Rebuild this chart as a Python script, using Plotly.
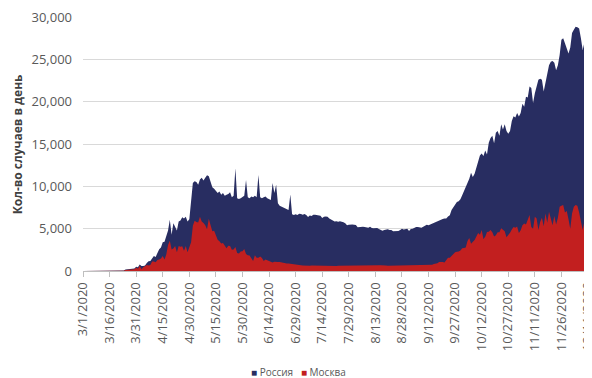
import pandas as pd
import plotly.graph_objects as go

# daily new cases, 1 Mar - 11 Dec 2020
russia_mar = [0, 1, 0, 0, 1, 6, 0, 3, 0, 3, 8, 6, 17, 14, 4, 30, 21, 33, 52, 54, 53, 61, 71, 57, 163, 182, 196, 228, 270, 302, 501]
russia_apr = [440, 771, 601, 582, 658, 954, 1154, 1175, 1459, 1786, 1667, 2186, 2558, 2774, 3388, 3448, 4070, 4785, 6060, 4268,
              5642, 5236, 4774, 5849, 5966, 6361, 6198, 6411, 5841, 6100]
russia_may = [8000, 10400, 10600, 10500, 10200, 10800, 11000, 10700, 11000, 11300, 11200, 10600, 9900, 9700, 9500, 9200, 9400,
              9000, 9200, 8900, 9000, 9100, 9300, 8700, 8900, 12150, 8600, 8500, 8600, 8800, 8900]
russia_jun = [10750, 8700, 8600, 8800, 8700, 8900, 8700, 11350, 8700, 8600, 8700, 8800, 8600, 8500, 8400, 10400, 9200, 10200,
              8000, 7700, 7600, 7500, 7400, 7300, 7200, 9050, 6700, 6600, 6700, 6600]
russia_jul = [6760, 6718, 6632, 6736, 6611, 6368, 6562, 6509, 6635, 6632, 6615, 6611, 6537, 6248, 6422, 6428, 6406, 6198, 6109,
              5940, 5842, 5862, 5811, 5871, 5848, 5765, 5635, 5395, 5475, 5509, 5482]
russia_aug = [5462, 5427, 5159, 5204, 5241, 5212, 5189, 5118, 5102, 5241, 5065, 5061, 5057, 5076, 4969, 4892, 4748, 4828, 4870,
              4921, 4838, 4852, 4696, 4676, 4744, 4711, 4829, 4979, 4897, 4980, 4993]
russia_sep = [4729, 4952, 4995, 5110, 5205, 5195, 5185, 5099, 5218, 5363, 5449, 5406, 5509, 5529, 5670, 5762, 5905, 5995, 6065,
              6148, 6196, 6215, 6431, 6595, 7212, 7523, 7867, 8135, 8232, 8481]
russia_oct = [8945, 9412, 9859, 10499, 10888, 11615, 11115, 11493, 12126, 12846, 13634, 13868, 13592, 14231, 13754, 15150, 15700,
              15982, 15099, 16319, 16521, 15971, 17340, 16710, 17347, 16550, 16202, 16550, 17717, 18283, 18140]
russia_nov = [18665, 18257, 18648, 19768, 19404, 20582, 20498, 21800, 21600, 19850, 21000, 22000, 22600, 22700, 22600, 21200,
              22400, 23600, 24300, 24700, 24800, 24600, 23700, 24300, 25500, 27300, 27500, 26900, 26300, 25700]
russia_dec = [26400, 28100, 28500, 28850, 28800, 28650, 27500, 26100, 27000, 28000, 28260]

moscow_mar = [0, 1, 0, 0, 0, 5, 0, 0, 0, 2, 5, 5, 12, 10, 1, 20, 14, 23, 33, 33, 33, 32, 54, 28, 120, 136, 157, 114, 197, 212, 387]
moscow_apr = [267, 595, 212, 434, 536, 697, 660, 706, 1124, 1124, 1030, 1306, 1355, 1489, 1774, 1370, 1959, 3083, 3570, 2548,
              2649, 2957, 2221, 2948, 2871, 2930, 2405, 2954, 2220, 2750]
moscow_may = [3400, 5358, 5948, 5795, 5714, 6400, 5846, 5667, 5392, 4942, 6169, 5392, 4703, 4748, 4100, 3700, 3505, 3238, 3300,
              2913, 2700, 2988, 2957, 2516, 2548, 2830, 2140, 2054, 2300, 2332, 2595]
moscow_jun = [2014, 1855, 1842, 1572, 1195, 1854, 1572, 1551, 1704, 1535, 1195, 1370, 1290, 1148, 1057, 1000, 1100, 1049, 1070,
              1063, 1000, 971, 866, 889, 876, 842, 767, 800, 700, 700]
moscow_jul = [681, 669, 659, 637, 587, 574, 611, 650, 642, 618, 617, 580, 571, 586, 594, 600, 597, 610, 599, 585, 589, 592, 619,
              624, 646, 655, 648, 658, 649, 654, 656]
moscow_aug = [677, 693, 694, 690, 684, 694, 690, 686, 688, 692, 699, 680, 688, 683, 680, 667, 632, 645, 642, 627, 630, 632, 645,
              637, 620, 640, 640, 634, 625, 629, 633]
moscow_sep = [640, 650, 664, 688, 700, 697, 683, 674, 686, 705, 723, 731, 740, 751, 841, 865, 910, 1050, 1095, 1060, 1000, 1264,
              1560, 1560, 1792, 2016, 2217, 2288, 2300, 2424]
moscow_oct = [2677, 2704, 2761, 3537, 3900, 3229, 3400, 3670, 4082, 4501, 4281, 4840, 3793, 4040, 4610, 4648, 4850, 4567, 4062,
              4231, 4575, 4576, 5050, 4900, 4700, 4000, 4232, 4524, 4900, 5200, 5100]
moscow_nov = [5261, 4500, 4800, 5400, 5600, 5500, 6000, 6600, 5200, 5000, 6400, 6200, 4840, 5800, 6300, 5300, 6800, 5700, 7000,
              6200, 5400, 6500, 5500, 6300, 7600, 7700, 7800, 6900, 7100, 6100]
moscow_dec = [5000, 6800, 7600, 7800, 7700, 6900, 6000, 4840, 5900, 6400, 6850]

tick_dates = ['2020-03-01', '2020-03-16', '2020-03-31', '2020-04-15', '2020-04-30', '2020-05-15', '2020-05-30',
              '2020-06-14', '2020-06-29', '2020-07-14', '2020-07-29', '2020-08-13', '2020-08-28', '2020-09-12',
              '2020-09-27', '2020-10-12', '2020-10-27', '2020-11-11', '2020-11-26', '2020-12-11']
tick_labels = ['3/1/2020', '3/16/2020', '3/31/2020', '4/15/2020', '4/30/2020', '5/15/2020', '5/30/2020', '6/14/2020',
               '6/29/2020', '7/14/2020', '7/29/2020', '8/13/2020', '8/28/2020', '9/12/2020', '9/27/2020', '10/12/2020',
               '10/27/2020', '11/11/2020', '11/26/2020', '12/11/2020']

russia = russia_mar + russia_apr + russia_may + russia_jun + russia_jul + russia_aug + russia_sep + russia_oct + russia_nov + russia_dec
moscow = moscow_mar + moscow_apr + moscow_may + moscow_jun + moscow_jul + moscow_aug + moscow_sep + moscow_oct + moscow_nov + moscow_dec
dates = pd.date_range('2020-03-01', '2020-12-11')
assert len(russia) == len(dates) == len(moscow)

navy = '#282d61'
red = '#c21f1f'
grey_text = '#595959'

fig = go.Figure()
fig.add_trace(go.Scatter(x=dates, y=russia, mode='lines', fill='tozeroy', line=dict(width=0, color=navy),
                         fillcolor=navy, name='Россия', showlegend=False))
fig.add_trace(go.Scatter(x=dates, y=moscow, mode='lines', fill='tozeroy', line=dict(width=0, color=red),
                         fillcolor=red, name='Москва', showlegend=False))

fig.add_annotation(text='<b>Кол-во случаев в день</b>', textangle=-90, xref='paper', yref='paper',
                   x=-0.130, y=0.5, xanchor='center', yanchor='middle', showarrow=False,
                   font=dict(size=12, color='#404040'))

# compact legend below the axis, squares sit right next to the names
legend_text = (f'<span style="color:{navy}">■</span> Россия   '
               f'<span style="color:{red}">■</span> Москва')
fig.add_annotation(text=legend_text, xref='paper', yref='paper', x=0.426, y=-0.398,
                   xanchor='center', yanchor='middle', showarrow=False,
                   font=dict(size=10, color=grey_text))

# the page body adds an 8px offset, so margins are 8px smaller on the left/top
fig.update_layout(
    width=592, height=378,
    margin=dict(l=75, r=12, t=9, b=115),
    paper_bgcolor='white', plot_bgcolor='white',
    font=dict(family='Open Sans, sans-serif', color=grey_text),
    showlegend=False,
    xaxis=dict(type='date', range=['2020-03-01', '2020-12-11'], tickvals=tick_dates, ticktext=tick_labels,
               tickangle=-90, tickfont=dict(size=13, color=grey_text), ticks='outside', ticklen=5,
               tickcolor='#bfbfbf', showline=True, linecolor='#bfbfbf', showgrid=False, zeroline=False,
               automargin=False),
    yaxis=dict(range=[0, 30000], dtick=5000, tickformat=',', tickfont=dict(size=13, color=grey_text),
               gridcolor='#d9d9d9', showline=False, zeroline=False, ticks='', ticklabelstandoff=10,
               ticklabeloverflow='allow', automargin=False),
)

fig.write_html("out.html")
